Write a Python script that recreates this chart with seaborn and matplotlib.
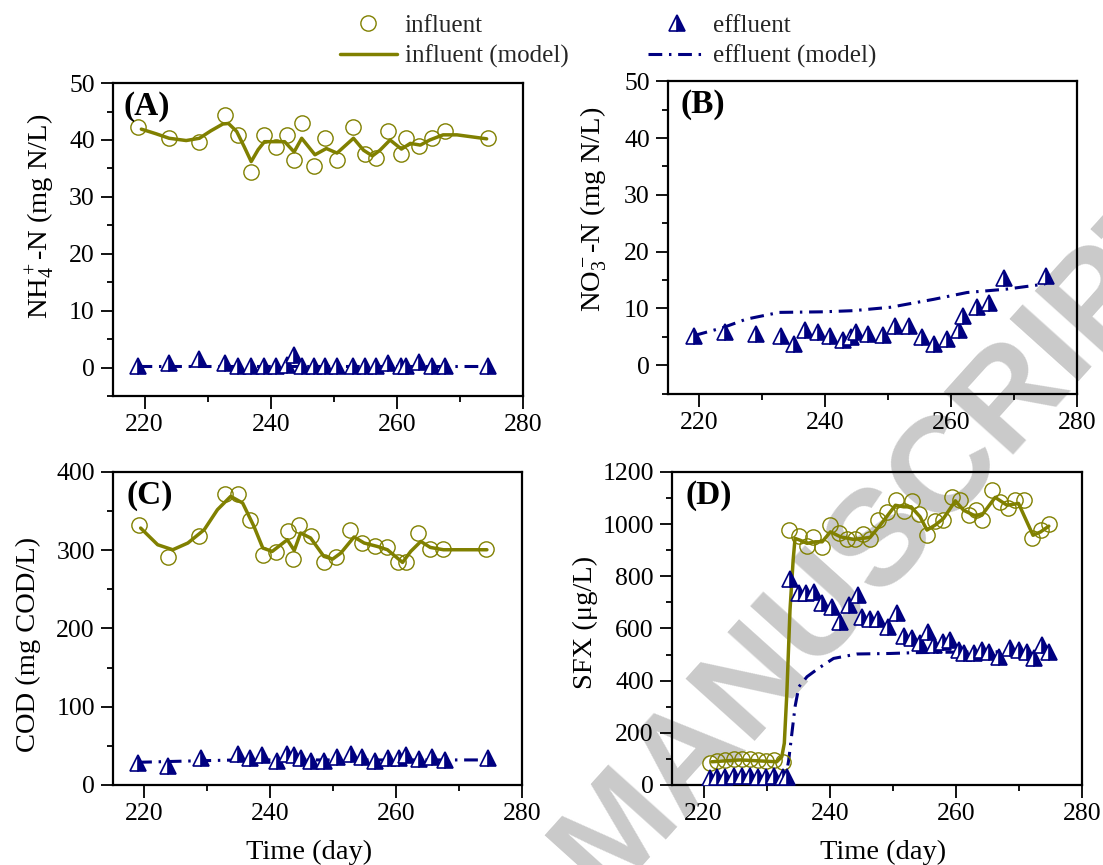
import matplotlib
matplotlib.use('Agg')
import matplotlib.pyplot as plt
from matplotlib.lines import Line2D
from matplotlib.ticker import MultipleLocator
import seaborn as sns

# ---- data ----
# (A) NH4+-N
a_day = [219.0, 223.9, 228.7, 232.8, 234.8, 236.8, 238.9, 240.8, 242.5, 243.7, 244.9, 246.9,
         248.6, 250.5, 253.0, 254.9, 256.6, 258.6, 260.6, 261.4, 263.5, 265.5, 267.6, 274.4]
a_inf = [42.3, 40.3, 39.6, 44.3, 40.9, 34.3, 40.9, 38.8, 40.9, 36.4, 42.9, 35.5,
         40.3, 36.4, 42.3, 37.5, 36.8, 41.6, 37.5, 40.3, 38.9, 40.3, 41.6, 40.3]
a_eff = [0.3, 0.8, 1.5, 0.8, 0.3, 0.3, 0.3, 0.3, 0.5, 2.3, 0.3, 0.3,
         0.3, 0.3, 0.3, 0.3, 0.3, 0.8, 0.3, 0.3, 1.0, 0.3, 0.3, 0.3]
a_mod_day = [219.5, 221.8, 223.9, 226.6, 228.7, 230.5, 232.4, 233.3, 234.6, 235.8, 236.9, 238.0,
             239.0, 240.9, 242.2, 243.7, 244.9, 247.0, 248.8, 250.5, 253.1, 254.7, 256.1, 257.3,
             258.9, 260.7, 262.1, 263.7, 265.2, 267.3, 269.5, 274.2]
a_mod_inf = [41.9, 41.1, 40.3, 39.9, 40.3, 41.6, 42.8, 42.9, 41.5, 38.8, 36.2, 38.3,
             39.7, 39.7, 39.7, 37.9, 40.3, 37.4, 38.5, 37.7, 40.3, 38.2, 37.2, 38.2,
             40.0, 38.4, 39.4, 39.1, 40.0, 40.9, 40.9, 40.2]
a_mod_eff_day = [219.0, 230.0, 245.0, 260.0, 274.5]
a_mod_eff = [0.3, 0.3, 0.3, 0.3, 0.3]

# (B) NO3--N
b_day = [219.1, 224.0, 229.0, 233.0, 235.0, 236.8, 238.8, 240.8, 242.8, 244.0, 244.8, 246.8,
         249.2, 251.1, 253.3, 255.3, 257.2, 259.3, 261.3, 261.9, 264.1, 266.0, 268.3, 275.1]
b_eff = [5.2, 5.8, 5.5, 5.2, 3.7, 6.2, 5.9, 5.1, 4.5, 5.0, 5.8, 5.5,
         5.3, 6.9, 6.9, 5.0, 3.7, 4.6, 6.2, 8.7, 10.3, 10.9, 15.4, 15.7]
b_mod_day = [219.1, 223.7, 227.4, 232.7, 239.6, 244.4, 250.3, 257.2, 262.5, 268.8, 274.9]
b_mod_eff = [5.2, 6.6, 8.1, 9.3, 9.4, 9.6, 10.2, 11.6, 12.8, 13.4, 14.3]

# (C) COD
c_day = [219.1, 223.8, 228.7, 232.8, 234.8, 236.8, 238.8, 240.9, 242.8, 243.6, 244.5, 246.4,
         248.5, 250.5, 252.6, 254.6, 256.7, 258.6, 260.3, 261.5, 263.4, 265.4, 267.5, 274.3]
c_inf = [331.6, 291.2, 318.4, 372.1, 372.1, 338.0, 294.1, 297.1, 324.8, 288.6, 332.5, 317.5,
         284.3, 291.2, 325.2, 309.1, 304.7, 304.0, 284.8, 284.8, 321.9, 301.4, 301.4, 301.4]
c_eff_day = [219.0, 223.7, 229.0, 234.8, 236.8, 238.6, 241.0, 242.7, 243.8, 244.8, 246.4, 248.5,
             250.6, 252.8, 254.6, 256.7, 258.7, 260.4, 261.5, 263.6, 265.7, 267.7, 274.5]
c_eff = [28, 24, 35, 40, 35, 38, 31, 40, 38, 34, 31, 31,
         36, 40, 36, 31, 35, 34, 38, 33, 36, 32, 35]
c_mod_day = [219.4, 222.1, 224.5, 226.9, 229.5, 231.6, 233.7, 235.6, 237.4, 238.8, 240.3, 242.7,
             243.8, 244.8, 246.4, 248.5, 249.9, 251.2, 253.3, 254.9, 257.0, 258.6, 261.0, 262.3,
             263.9, 265.4, 267.5, 274.4]
c_mod_inf = [328.2, 306.9, 300.5, 309.1, 326.1, 351.7, 368.7, 360.2, 330.3, 302.7, 298.4, 313.3,
             299.6, 321.9, 315.5, 292.0, 288.6, 296.3, 316.8, 309.1, 304.7, 300.5, 284.3, 298.4,
             311.1, 303.5, 300.5, 300.5]
c_mod_eff_day = [219.0, 224.0, 229.0, 235.0, 245.0, 255.0, 265.0, 274.5]
c_mod_eff = [29, 30, 31, 32, 32, 32, 32, 32]

# (D) SFX
d_day = [221.1, 222.2, 223.4, 224.8, 226.1, 227.3, 228.6, 229.9, 231.2, 232.6,
         233.6, 235.2, 236.4, 237.4, 238.8, 240.1, 241.4, 242.7, 244.0, 245.3, 246.4, 247.7,
         249.1, 250.5, 251.7, 253.0, 254.1, 255.4, 256.7, 258.0, 259.4, 260.7, 262.0, 263.1,
         264.1, 265.7, 267.0, 268.3, 269.4, 270.7, 272.0, 273.4, 274.7]
d_inf = [85, 92, 95, 100, 100, 100, 95, 92, 95, 90,
         979, 954, 915, 951, 913, 996, 964, 941, 941, 961, 941, 1015,
         1047, 1094, 1051, 1089, 1038, 957, 1012, 1015, 1104, 1094, 1034, 1053,
         1015, 1130, 1085, 1060, 1094, 1094, 945, 977, 1002]
d_eff_day = [221.1, 222.2, 223.4, 224.8, 226.1, 227.3, 228.6, 229.9, 231.2, 232.6, 233.3,
             233.7, 235.1, 236.2, 237.5, 238.8, 240.3, 241.7, 243.0, 244.4, 245.1, 246.4, 247.7,
             249.3, 250.6, 251.7, 253.0, 254.3, 255.5, 256.5, 258.0, 259.1, 260.4, 261.2, 262.8,
             264.1, 265.2, 266.8, 268.6, 269.9, 271.3, 272.3, 273.6, 274.8]
d_eff = [25, 30, 32, 35, 33, 35, 30, 32, 35, 30, 30,
         791, 734, 736, 740, 696, 683, 625, 689, 728, 645, 638, 638,
         606, 658, 571, 562, 543, 587, 536, 549, 555, 517, 504, 504,
         517, 510, 491, 524, 517, 510, 485, 536, 510]
d_mod_day = [221.3, 225.8, 231.6, 232.4, 232.8, 233.2, 233.7, 234.2, 234.5, 235.3, 236.4, 237.7,
             238.8, 240.1, 241.7, 243.8, 246.4, 248.0, 250.4, 251.7, 252.9, 254.3, 255.4, 256.7,
             258.0, 259.9, 261.2, 262.8, 264.1, 266.2, 268.1, 269.9, 272.2, 273.4, 274.7]
d_mod_inf = [89, 96, 89, 108, 160, 351, 670, 862, 945, 938, 926, 932,
             932, 970, 951, 941, 949, 996, 1072, 1066, 1066, 1028, 977, 996,
             1021, 1089, 1053, 1034, 1034, 1102, 1072, 1079, 957, 970, 992]
d_mod_eff_day = [221.0, 227.0, 233.0, 233.5, 234.0, 234.5, 235.1, 236.4, 238.2, 240.6,
                 244.3, 249.6, 253.3, 262.8, 274.7]
d_mod_eff = [20, 20, 25, 96, 198, 300, 376, 415, 447, 485, 502, 504, 507, 510, 512]

# ---- style ----
sns.set_theme(style='white')
plt.rcParams['font.family'] = ['Liberation Serif', 'DejaVu Serif']
plt.rcParams['mathtext.fontset'] = 'custom'
plt.rcParams['mathtext.rm'] = 'Liberation Serif'
plt.rcParams['mathtext.it'] = 'Liberation Serif:italic'
plt.rcParams['mathtext.bf'] = 'Liberation Serif:bold'

OLIVE = '#808000'
NAVY = '#000080'
DASHDOT = (0, (4.5, 2.2, 0.8, 2.2))
circ_kw = dict(marker='o', linestyle='', markersize=11, markerfacecolor='none',
               markeredgecolor=OLIVE, markeredgewidth=1.0)
tri_kw = dict(marker='^', linestyle='', markersize=12, fillstyle='right',
              markerfacecolor=NAVY, markerfacecoloralt='white',
              markeredgecolor=NAVY, markeredgewidth=1.2)

fig = plt.figure(figsize=(11.03, 8.65), dpi=100)
fig.patch.set_facecolor('white')

# watermark behind the panels (runs off the page like in the original)
fig.text(0.80, 0.38, 'MANUSCRIPT', rotation=48, rotation_mode='anchor',
         ha='center', va='center', fontsize=98, fontweight='bold',
         family='Liberation Sans', color='#cacaca', zorder=-1)

ax_a = fig.add_axes([0.1024, 0.542, 0.372, 0.362])
ax_b = fig.add_axes([0.6056, 0.545, 0.371, 0.361])
ax_c = fig.add_axes([0.1024, 0.0925, 0.371, 0.362])
ax_d = fig.add_axes([0.6092, 0.0925, 0.372, 0.362])


def style_ax(ax, ylim, ymaj, ymin):
    ax.set_facecolor('none')
    ax.grid(False)
    ax.set_xlim(215, 280)
    ax.set_ylim(*ylim)
    ax.xaxis.set_major_locator(MultipleLocator(20))
    ax.xaxis.set_minor_locator(MultipleLocator(10))
    ax.yaxis.set_major_locator(MultipleLocator(ymaj))
    ax.yaxis.set_minor_locator(MultipleLocator(ymin))
    ax.tick_params(which='both', direction='out', bottom=True, left=True,
                   top=False, right=False, width=1.3, color='black',
                   labelsize=18.5, labelcolor='black')
    ax.tick_params(which='major', length=9, pad=4)
    ax.tick_params(which='minor', length=4.5)
    for sp in ax.spines.values():
        sp.set_linewidth(1.6)
        sp.set_color('black')
        sp.set_visible(True)
    ax.set_xlabel('')
    ax.set_ylabel('')


def influent(ax, day, val, mday, mval):
    sns.lineplot(x=mday, y=mval, ax=ax, color=OLIVE, linewidth=2.5, errorbar=None, zorder=2)
    sns.lineplot(x=day, y=val, ax=ax, color=OLIVE, errorbar=None, zorder=3, **circ_kw)


def effluent(ax, day, val, mday, mval):
    sns.lineplot(x=mday, y=mval, ax=ax, color=NAVY, linewidth=2.2, linestyle=DASHDOT,
                 errorbar=None, zorder=2)
    sns.lineplot(x=day, y=val, ax=ax, color=NAVY, errorbar=None, zorder=4, **tri_kw)


influent(ax_a, a_day, a_inf, a_mod_day, a_mod_inf)
effluent(ax_a, a_day, a_eff, a_mod_eff_day, a_mod_eff)
effluent(ax_b, b_day, b_eff, b_mod_day, b_mod_eff)
influent(ax_c, c_day, c_inf, c_mod_day, c_mod_inf)
effluent(ax_c, c_eff_day, c_eff, c_mod_eff_day, c_mod_eff)
influent(ax_d, d_day, d_inf, d_mod_day, d_mod_inf)
effluent(ax_d, d_eff_day, d_eff, d_mod_eff_day, d_mod_eff)

style_ax(ax_a, (-5, 50), 10, 5)
style_ax(ax_b, (-5, 50), 10, 5)
style_ax(ax_c, (0, 400), 100, 50)
style_ax(ax_d, (0, 1200), 200, 100)

lab = dict(fontsize=20.5, color='black')
ax_a.set_ylabel(r'NH$_4^+$-N (mg N/L)', **lab)
ax_a.yaxis.set_label_coords(-0.134, 0.575)
ax_b.set_ylabel(r'NO$_3^-$-N (mg N/L)', **lab)
ax_b.yaxis.set_label_coords(-0.144, 0.59)
ax_c.set_ylabel('COD (mg COD/L)', **lab)
ax_c.yaxis.set_label_coords(-0.176, 0.45)
ax_d.set_ylabel('SFX (μg/L)', **lab)
ax_d.yaxis.set_label_coords(-0.18, 0.52)
ax_c.set_xlabel('Time (day)', **lab)
ax_c.xaxis.set_label_coords(0.48, -0.175)
ax_d.set_xlabel('Time (day)', **lab)
ax_d.xaxis.set_label_coords(0.515, -0.175)

for ax, tag, x0 in [(ax_a, '(A)', 0.025), (ax_b, '(B)', 0.03),
                    (ax_c, '(C)', 0.032), (ax_d, '(D)', 0.032)]:
    ax.text(x0, 0.975, tag, transform=ax.transAxes, ha='left', va='top',
            fontsize=24, fontweight='bold', color='black')

handles = [
    Line2D([], [], color=OLIVE, **circ_kw),
    Line2D([], [], color=OLIVE, linewidth=2.5),
    Line2D([], [], color=NAVY, **tri_kw),
    Line2D([], [], color=NAVY, linewidth=2.2, linestyle=DASHDOT),
]
labels = ['influent', 'influent (model)', 'effluent', 'effluent (model)']
fig.legend(handles, labels, ncol=2, loc='upper left', bbox_to_anchor=(0.308, 0.983),
           frameon=False, fontsize=18, handlelength=2.3, handletextpad=0.3,
           columnspacing=3.2, labelspacing=0.3, borderpad=0, borderaxespad=0)

fig.savefig('out.png', dpi=100, facecolor='white')
